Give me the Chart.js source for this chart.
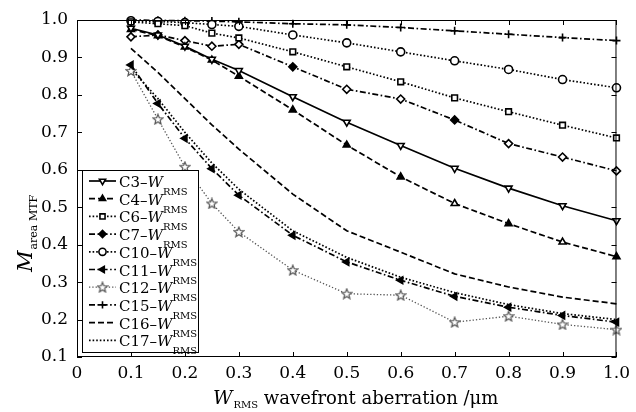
<!DOCTYPE html>
<html>
<head>
<meta charset="utf-8">
<script src="https://cdn.jsdelivr.net/npm/chart.js@4.4.1/dist/chart.umd.min.js"></script>
<style>
  html, body { margin: 0; padding: 0; background: #fff; }
  canvas { display: block; }
</style>
</head>
<body>
<canvas id="chart" width="636" height="412"></canvas>
<script>
// W_RMS wavefront aberration (um) sampled for every curve
const wrms = [0.1, 0.15, 0.2, 0.25, 0.3, 0.4, 0.5, 0.6, 0.7, 0.8, 0.9, 1.0];

// M area MTF
const c3  = [0.978, 0.960, 0.930, 0.895, 0.865, 0.795, 0.727, 0.665, 0.604, 0.551, 0.504, 0.464];
const c4  = [0.975, 0.958, 0.928, 0.893, 0.850, 0.760, 0.666, 0.581, 0.510, 0.456, 0.407, 0.368];
const c6  = [0.995, 0.990, 0.985, 0.965, 0.952, 0.915, 0.875, 0.835, 0.792, 0.755, 0.719, 0.685];
const c7  = [0.955, 0.960, 0.945, 0.930, 0.935, 0.875, 0.815, 0.789, 0.733, 0.670, 0.634, 0.597];
const c10 = [0.998, 0.996, 0.993, 0.988, 0.983, 0.960, 0.939, 0.915, 0.891, 0.868, 0.841, 0.819];
const c11 = [0.880, 0.777, 0.684, 0.603, 0.532, 0.425, 0.354, 0.305, 0.262, 0.233, 0.211, 0.193];
const c12 = [0.864, 0.735, 0.608, 0.510, 0.434, 0.332, 0.269, 0.265, 0.193, 0.209, 0.187, 0.173];
const c15 = [1.000, 0.999, 0.998, 0.997, 0.995, 0.990, 0.987, 0.980, 0.971, 0.962, 0.953, 0.945];
const c16 = [0.924, 0.860, 0.790, 0.720, 0.655, 0.535, 0.437, 0.380, 0.322, 0.287, 0.260, 0.242];
const c17 = [0.870, 0.790, 0.700, 0.618, 0.548, 0.437, 0.366, 0.313, 0.272, 0.240, 0.216, 0.200];

const seriesNames = ['C3', 'C4', 'C6', 'C7', 'C10', 'C11', 'C12', 'C15', 'C16', 'C17'];
const seriesValues = [c3, c4, c6, c7, c10, c11, c12, c15, c16, c17];

const xTicks = [0, 0.1, 0.2, 0.3, 0.4, 0.5, 0.6, 0.7, 0.8, 0.9, 1.0];
const yTicks = [0.1, 0.2, 0.3, 0.4, 0.5, 0.6, 0.7, 0.8, 0.9, 1.0];

const SERIF = '"DejaVu Serif", "Liberation Serif", serif';
const DOT = [1.6, 2];
const DASH = [6, 3];
const DASHDOT = [6, 2.5, 1.6, 2.5];

// hollow five-point star used as marker for C12
function makeStar(color) {
  const c = document.createElement('canvas');
  c.width = 12; c.height = 12;
  const g = c.getContext('2d');
  g.strokeStyle = color; g.fillStyle = '#fff'; g.lineWidth = 1.2;
  g.beginPath();
  for (let k = 0; k < 10; k++) {
    const r = k % 2 ? 2.3 : 5.2;
    const a = -Math.PI / 2 + k * Math.PI / 5;
    const px = 6 + r * Math.cos(a), py = 6.4 + r * Math.sin(a);
    k ? g.lineTo(px, py) : g.moveTo(px, py);
  }
  g.closePath(); g.fill(); g.stroke();
  return c;
}
const starMark = makeStar('#555');

// look of each curve (line style + marker)
const looks = [
  { dash: [],      style: 'triangle', rot: 180, fill: '#fff' },
  { dash: DASH,    style: 'triangle', rot: 0,   fill: ['#000','#000','#000','#000','#000','#000','#000','#000','#fff','#000','#fff','#000'] },
  { dash: DOT,     style: 'rect',     rot: 0,   fill: '#fff' },
  { dash: DASHDOT, style: 'rectRot',  rot: 0,   fill: ['#fff','#fff','#fff','#fff','#fff','#000','#fff','#fff','#000','#fff','#fff','#fff'] },
  { dash: DOT,     style: 'circle',   rot: 0,   fill: '#fff' },
  { dash: DASHDOT, style: 'triangle', rot: -90, fill: '#000' },
  { dash: [1.3, 2], style: starMark,  rot: 0,   fill: '#fff', color: '#555' },
  { dash: DASHDOT, style: 'cross',    rot: 0,   fill: '#000' },
  { dash: DASH,    style: false,      rot: 0,   fill: '#000' },
  { dash: DOT,     style: false,      rot: 0,   fill: '#000' }
];

const datasets = seriesNames.map((name, i) => {
  const lk = looks[i];
  const col = lk.color || '#000';
  return {
    label: name,
    data: wrms.map((x, j) => ({ x: x, y: seriesValues[i][j] })),
    borderColor: col,
    borderWidth: i === 6 ? 1.3 : 1.7,
    borderDash: lk.dash,
    pointStyle: lk.style,
    rotation: lk.rot,
    pointRadius: lk.style ? 4 : 0,
    pointBorderColor: col,
    pointBackgroundColor: lk.fill,
    pointBorderWidth: 1.6,
    tension: 0,
    clip: 8
  };
});

// inward ticks + frame
const framePlugin = {
  id: 'frame',
  afterDatasetsDraw(chart) {
    const { ctx, chartArea: a, scales } = chart;
    ctx.save();
    ctx.strokeStyle = '#000';
    ctx.lineWidth = 1;
    ctx.setLineDash([]);
    ctx.strokeRect(a.left + 0.5, a.top + 0.5, a.right - a.left - 1, a.bottom - a.top - 1);
    const tl = 5;
    ctx.beginPath();
    xTicks.forEach(v => {
      const px = Math.round(scales.x.getPixelForValue(v)) + 0.5;
      ctx.moveTo(px, a.bottom); ctx.lineTo(px, a.bottom - tl);
      ctx.moveTo(px, a.top); ctx.lineTo(px, a.top + tl);
    });
    yTicks.forEach(v => {
      const py = Math.round(scales.y.getPixelForValue(v)) + 0.5;
      ctx.moveTo(a.left, py); ctx.lineTo(a.left + tl, py);
      ctx.moveTo(a.right, py); ctx.lineTo(a.right - tl, py);
    });
    ctx.stroke();
    ctx.restore();
  }
};

// legend box and axis titles with subscripts
const textPlugin = {
  id: 'texts',
  afterDraw(chart) {
    const ctx = chart.ctx;
    ctx.save();
    // legend
    const bx = 82, by = 170, bw = 116, bh = 182;
    ctx.fillStyle = '#fff';
    ctx.fillRect(bx, by, bw, bh);
    ctx.strokeStyle = '#000';
    ctx.lineWidth = 1;
    ctx.setLineDash([]);
    ctx.strokeRect(bx + 0.5, by + 0.5, bw, bh);
    chart.data.datasets.forEach((ds, i) => {
      const y = 181 + i * 17.7;
      ctx.strokeStyle = ds.borderColor;
      ctx.lineWidth = ds.borderWidth;
      ctx.setLineDash(ds.borderDash);
      ctx.beginPath();
      ctx.moveTo(89, y); ctx.lineTo(116, y);
      ctx.stroke();
      ctx.setLineDash([]);
      if (ds.pointStyle && Chart.helpers && Chart.helpers.drawPoint) {
        ctx.fillStyle = Array.isArray(ds.pointBackgroundColor) ? '#000' : ds.pointBackgroundColor;
        ctx.strokeStyle = ds.pointBorderColor;
        ctx.lineWidth = ds.pointBorderWidth;
        Chart.helpers.drawPoint(ctx, { pointStyle: ds.pointStyle, rotation: ds.rotation, radius: 3.6, borderWidth: ds.pointBorderWidth }, 102.5, y);
      }
      ctx.fillStyle = '#000';
      ctx.textBaseline = 'alphabetic';
      ctx.textAlign = 'left';
      let x = 119;
      ctx.font = '15px ' + SERIF;
      const t = ds.label + '\u2013';
      ctx.fillText(t, x, y + 6);
      x += ctx.measureText(t).width;
      ctx.font = 'italic 15px ' + SERIF;
      ctx.fillText('W', x, y + 6);
      x += ctx.measureText('W').width;
      ctx.font = '10px ' + SERIF;
      ctx.fillText('RMS', x, y + 14);
    });

    // x title
    ctx.fillStyle = '#000';
    let tx = 213;
    const ty = 404;
    ctx.font = 'italic 19px ' + SERIF;
    ctx.fillText('W', tx, ty);
    tx += ctx.measureText('W').width;
    ctx.font = '10px ' + SERIF;
    ctx.fillText('RMS', tx + 1, ty + 4);
    tx += ctx.measureText('RMS').width + 1;
    ctx.font = '18px ' + SERIF;
    ctx.fillText(' wavefront aberration /\u03bcm', tx, ty);

    // y title (rotated)
    ctx.translate(32, 272);
    ctx.rotate(-Math.PI / 2);
    ctx.font = 'italic 21px ' + SERIF;
    ctx.fillText('M', 0, 0);
    const mw = ctx.measureText('M').width;
    ctx.font = '11px ' + SERIF;
    ctx.fillText('area MTF', mw + 1, 5);
    ctx.restore();
  }
};

new Chart(document.getElementById('chart'), {
  type: 'line',
  data: { datasets: datasets },
  options: {
    responsive: false,
    animation: false,
    layout: { padding: { top: 20, right: 19, left: 0, bottom: 0 } },
    plugins: { legend: { display: false }, tooltip: { enabled: false } },
    scales: {
      x: {
        type: 'linear',
        min: 0, max: 1,
        grid: { display: false, drawTicks: false },
        border: { display: false },
        afterFit: s => { s.height = 55; },
        afterBuildTicks: s => { s.ticks = xTicks.map(v => ({ value: v })); },
        ticks: {
          autoSkip: false, maxRotation: 0, padding: 6, color: '#000',
          font: { family: SERIF, size: 17 },
          callback: v => v === 0 ? '0' : v.toFixed(1)
        }
      },
      y: {
        min: 0.1, max: 1.0,
        grid: { display: false, drawTicks: false },
        border: { display: false },
        afterFit: s => { s.width = 77; },
        afterBuildTicks: s => { s.ticks = yTicks.map(v => ({ value: v })); },
        ticks: {
          autoSkip: false, padding: 9, color: '#000',
          font: { family: SERIF, size: 17 },
          callback: v => v.toFixed(1)
        }
      }
    }
  },
  plugins: [framePlugin, textPlugin]
});
</script>
</body>
</html>
